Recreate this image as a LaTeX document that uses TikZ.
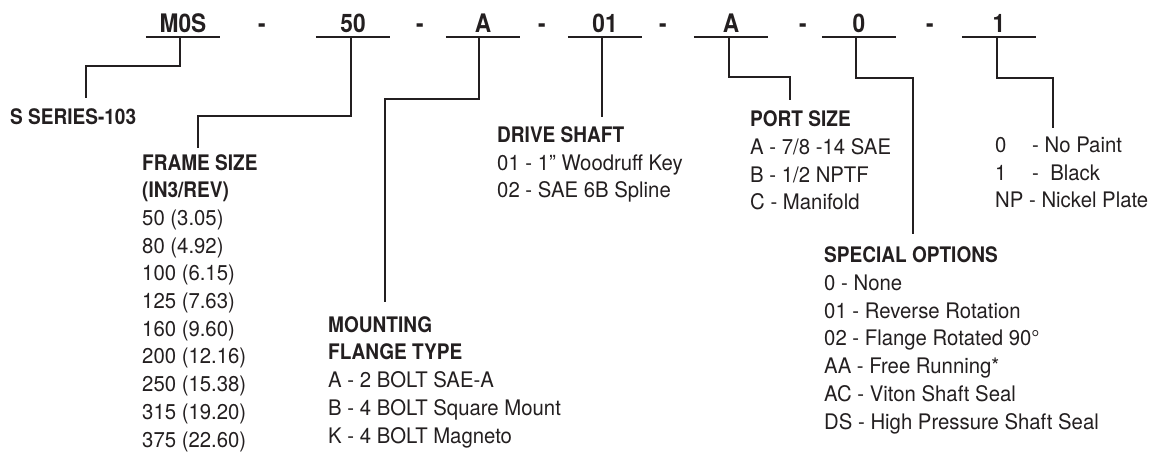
\documentclass[tikz,border=0pt]{standalone}
\usepackage{fontspec}
\setmainfont{TeX Gyre Heros}[FakeStretch=0.95]
\newfontfamily\headfont{TeX Gyre Heros}[FakeStretch=0.89]
\usetikzlibrary{positioning}
\definecolor{ink}{RGB}{35,31,32}
\newcommand{\legendhead}[1]{{\headfont\bfseries #1}}

\begin{document}
\begin{tikzpicture}
  [
    x=1pt, y=-1pt,
    code/.style={font=\headfont\bfseries\fontsize{25.5}{30}\selectfont, text=ink, anchor=base, minimum width=74pt, inner xsep=0pt, inner ysep=4pt, text depth=0pt},
    sep/.style={font=\headfont\bfseries\fontsize{25.5}{30}\selectfont, text=ink, anchor=base, inner sep=0pt},
    legend/.style={font=\fontsize{21.4}{27.7}\selectfont, text=ink, align=left, anchor=base west, inner sep=0pt},
    lead/.style={draw=ink, line width=2pt}
  ]
    \useasboundingbox (0,0) rectangle (1153,454);
    % =========================================================================
    % MODEL CODE
    % =========================================================================
    \node [code] (mos) at (183,33) {M0S};
    \node [code] (size) at (353,33) {50};
    \node [code] (mount) at (483,33) {A};
    \node [code] (shaft) at (605,33) {01};
    \node [code] (port) at (731,33) {A};
    \node [code] (opt) at (859,33) {0};
    \node [code] (paint) at (999,33) {1};

    \node [sep] (sep1) at (262,33) {-};
    \node [sep] (sep2) at (420,33) {-};
    \node [sep] (sep3) at (542,33) {-};
    \node [sep] (sep4) at (663,33) {-};
    \node [sep] (sep5) at (803,33) {-};
    \node [sep] (sep6) at (930,33) {-};

    \foreach \n in {mos, size, mount, shaft, port, opt, paint}
      \draw [lead] (\n.south west) -- (\n.south east);

    % =========================================================================
    % LEGENDS (placed at the baseline of their last line)
    % =========================================================================
    \node [legend] (mosinfo) at (10,125) {\legendhead{S SERIES-103}};
    \node [legend] (sizeinfo) at (142,447) {\legendhead{FRAME SIZE}\\\legendhead{(IN3/REV)}\\
      50 (3.05)\\80 (4.92)\\100 (6.15)\\125 (7.63)\\160 (9.60)\\
      200 (12.16)\\250 (15.38)\\315 (19.20)\\375 (22.60)};
    \node [legend] (mountinfo) at (328,443) {\legendhead{MOUNTING}\\\legendhead{FLANGE TYPE}\\
      A - 2 BOLT SAE-A\\B - 4 BOLT Square Mount\\K - 4 BOLT Magneto};
    \node [legend] (shaftinfo) at (497,198) {\legendhead{DRIVE SHAFT}\\
      01 - 1” Woodruff Key\\02 - SAE 6B Spline};
    \node [legend] (portinfo) at (750,210) {\legendhead{PORT SIZE}\\
      A - 7/8 -14 SAE\\B - 1/2 NPTF\\C - Manifold};
    \node [legend] (optinfo) at (824,429) {\legendhead{SPECIAL OPTIONS}\\
      0 - None\\01 - Reverse Rotation\\02 - Flange Rotated 90°\\
      AA - Free Running*\\AC - Viton Shaft Seal\\DS - High Pressure Shaft Seal};
    \node [legend] (paintinfo) at (995,208) {\makebox[37pt][l]{0}- No Paint\\
      \makebox[37pt][l]{1}-\ \ Black\\NP - Nickel Plate};

    \coordinate (mostip) at (86,98);
    \coordinate (sizetip) at (198,148);
    \coordinate (mounttip) at (385,302);
    \coordinate (shafttip) at (602,117);
    \coordinate (porttip) at (790,100);
    \coordinate (opttip) at (913,234);
    \coordinate (painttip) at (1053,128);

    % =========================================================================
    % LEADERS
    % =========================================================================
    \draw [lead] ([xshift=-3pt]mos.south) -- ++(0,29) -| (mostip);
    \draw [lead] ([xshift=-2pt]size.south) -- ++(0,79) -| (sizetip);
    \draw [lead] ([xshift=-4pt]mount.south) -- ++(0,62) -| (mounttip);
    \draw [lead] ([xshift=-3pt]shaft.south) -- (shafttip);
    \draw [lead] ([xshift=-2pt]port.south) -- ++(0,40) -| (porttip);
    \draw [lead] ([xshift=-3pt]opt.south) -- ++(0,41) -| (opttip);
    \draw [lead] ([xshift=-2pt]paint.south) -- ++(0,41) -| (painttip);

  \end{tikzpicture}
\end{document}
